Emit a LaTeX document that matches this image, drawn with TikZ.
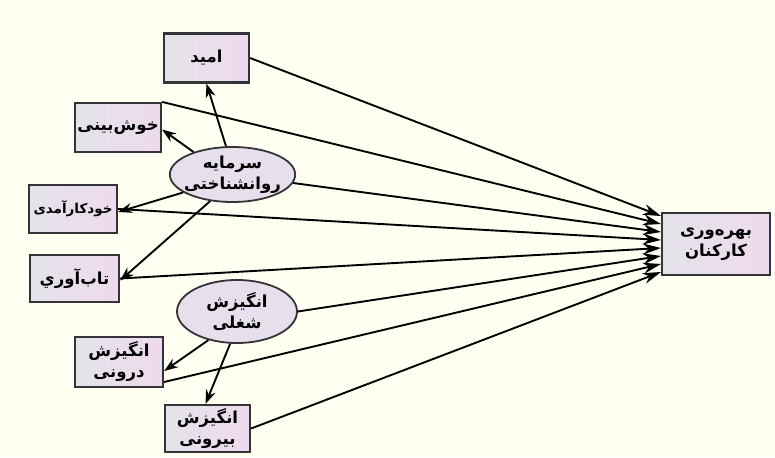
\documentclass[tikz,border=0pt]{standalone}
\usepackage{fontspec}
\TeXXeTstate=1
\newfontfamily\fa[Script=Arabic]{DejaVu Sans}
\usetikzlibrary{arrows.meta,shapes.geometric}
\definecolor{paper}{HTML}{FFFFF2}
\definecolor{boxL}{HTML}{E4E3EA}
\definecolor{boxR}{HTML}{EEDAED}
\definecolor{ellFill}{HTML}{E7DFEC}
\definecolor{edge}{HTML}{333338}
\newcommand\rl[1]{\beginR #1\endR}
\tikzset{
  var/.style={rectangle, draw=edge, line width=2.2pt, left color=boxL, right color=boxR,
    font=\fa\bfseries\fontsize{16.5}{21}\selectfont, align=center, inner sep=0pt},
  latent/.style={ellipse, draw=edge, line width=1.8pt, fill=ellFill,
    font=\fa\bfseries\fontsize{16.5}{21}\selectfont, align=center, inner sep=0pt},
  path/.style={line width=1.9pt, -{Stealth[length=14pt,width=10pt]}},
  inpath/.style={line width=1.9pt, -{Stealth[length=18pt,width=11pt]}},
}
\begin{document}
\begin{tikzpicture}[x=1pt,y=-1pt]
\fill[paper] (0,0) rectangle (775,457);
\useasboundingbox (0,0) rectangle (775,457);

% observed and latent variables
\node[var, minimum width=85pt, minimum height=49pt] (omid) at (206.5,58) {\rl{امید}};
\node[var, minimum width=86pt, minimum height=49pt] (khosh) at (118,127.5) {\rl{خوش‌بینی}};
\node[var, minimum width=88pt, minimum height=48pt, font=\fa\bfseries\fontsize{13.5}{15}\selectfont] (khod) at (73,209) {\rl{خودکارآمدی}};
\node[var, minimum width=89pt, minimum height=47pt] (tab) at (74.5,278.5) {\rl{تاب‌آوري}};
\node[latent, minimum width=119pt, minimum height=55pt, inner sep=-4pt] (sarm) at (232.5,174.5) {\rl{سرمایه}\\\rl{روانشناختی}};
\node[latent, minimum width=120pt, minimum height=63pt] (angz) at (237,311.5) {\rl{انگیزش}\\\rl{شغلی}};
\node[var, minimum width=88pt, minimum height=50pt] (daru) at (119,362) {\rl{انگیزش}\\\rl{درونی}};
\node[var, minimum width=85pt, minimum height=47pt] (biru) at (207.5,428.5) {\rl{انگیزش}\\\rl{بیرونی}};
\node[var, minimum width=108pt, minimum height=62pt] (bahr) at (716,244) {\rl{بهره‌وری}\\\rl{کارکنان}};

% arrow tips along the left side of the outcome box
\foreach \i/\y in {1/216,2/224,3/232,4/240,5/248,6/256,7/264,8/272}
  \coordinate (t\i) at (661,\y);

% paths into the outcome
\draw[inpath] (omid.east) -- (t1);
\draw[inpath] (khosh.north east) -- (t2);
\draw[inpath] (sarm.-8) -- (t3);
\draw[inpath] (khod.east) -- (t4);
\draw[inpath] (tab.east) -- (t5);
\draw[inpath] (angz.east) -- (t6);
\draw[inpath] ([yshift=-20pt]daru.east) -- (t7);
\draw[inpath] (biru.east) -- (t8);

% loadings of the latent variables
\draw[path] (sarm.103) -- (omid.south);
\draw[path] (sarm.150) -- ([yshift=-2pt]khosh.east);
\draw[path] (sarm.200) -- ([yshift=-3pt]khod.east);
\draw[path] (sarm.230) -- ([yshift=-2pt]tab.east);
\draw[path] (angz.225) -- ([yshift=-9pt]daru.east);
\draw[path] (angz.258) -- ([xshift=-2pt]biru.north);
\end{tikzpicture}
\end{document}
